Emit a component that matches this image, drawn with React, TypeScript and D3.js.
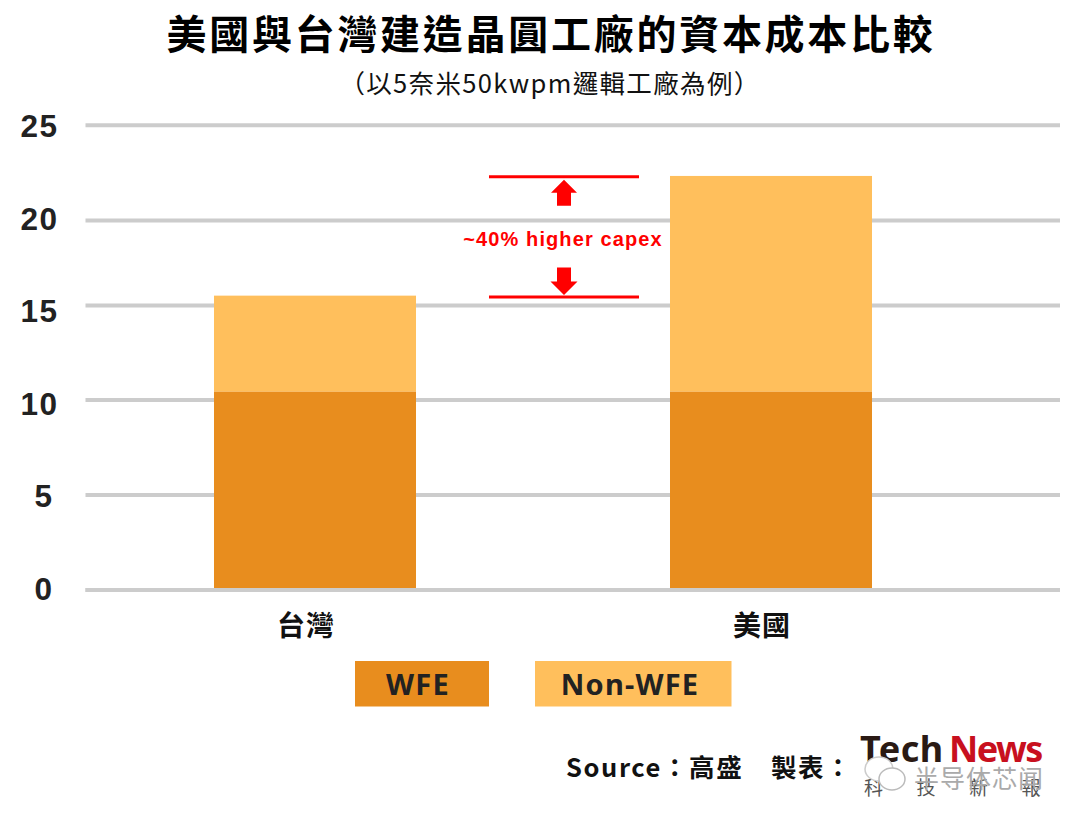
import * as d3 from 'd3';

// --- Data ---
const categories = ['台灣', '美國'];
const wfe = [10.44, 10.44];
const nonWfe = [5.14, 11.9];
const yTicks = [0, 5, 10, 15, 20, 25];

const title = '美國與台灣建造晶圓工廠的資本成本比較';
const subtitle = '（以5奈米50kwpm邏輯工廠為例）';

const WFE_COLOR = '#E88D1E';
const NON_WFE_COLOR = '#FFBF5C';
const GRID = '#CCCCCC';
const RED = '#FF0000';
const FONT = '"Noto Sans CJK TC", "Noto Sans", sans-serif';
const LATIN = '"Noto Sans", "Noto Sans CJK TC", sans-serif';
const HELV = '"Liberation Sans", sans-serif';

// the gridlines in the source are not quite evenly spaced, the labels are
const y = d3.scaleLinear().domain(yTicks).range([590, 495, 400, 305.5, 220.5, 125.3]);
const yLabel = d3.scaleLinear().domain([0, 25]).range([600, 137]);
const x = d3.scaleBand<string>().domain(categories).range([87, 999]).paddingInner(0.557).paddingOuter(0.2785);

const App = () => {
    const topLo = y(wfe[0] + nonWfe[0]) + 1.3;
    const topHi = y(wfe[1] + nonWfe[1]) + 0.8;
    const arrowX = 564;

    return (
        <svg width={1080} height={825} style={{ position: 'absolute', top: 0, left: 0, background: '#fff' }}>
            <text x={551} y={49} textAnchor="middle" fontFamily={FONT} fontWeight={700} fontSize={40} letterSpacing={2.72} fill="#000">{title}</text>
            <text x={550} y={93} textAnchor="middle" fontFamily={FONT} fontSize={25.5} letterSpacing={1.35} fill="#111">{subtitle}</text>

            {/* grid + y labels */}
            {yTicks.map(t => (
                <g key={t}>
                    <line x1={85.5} x2={1060} y1={y(t)} y2={y(t)} stroke={GRID} strokeWidth={4} />
                    <text x={t < 10 ? 44 : 39.5} y={yLabel(t)} textAnchor="middle" fontFamily={HELV} fontWeight={700} fontSize={31.5} letterSpacing={1.5} fill="#222">{t}</text>
                </g>
            ))}

            {/* bars */}
            {categories.map((c, i) => (
                <g key={c}>
                    <rect x={x(c)} width={x.bandwidth()} y={y(wfe[i] + nonWfe[i])} height={y(wfe[i]) - y(wfe[i] + nonWfe[i])} fill={NON_WFE_COLOR} />
                    <rect x={x(c)} width={x.bandwidth()} y={y(wfe[i])} height={y(0) - y(wfe[i])} fill={WFE_COLOR} />
                    <text x={(x(c) as number) + x.bandwidth() / 2 - 9} y={636} textAnchor="middle" fontFamily={FONT} fontWeight={700} fontSize={28} letterSpacing={1} fill="#111">{c}</text>
                </g>
            ))}
            <line x1={85.5} x2={1060} y1={y(0)} y2={y(0)} stroke={GRID} strokeWidth={4} />

            {/* capex annotation */}
            <line x1={489} x2={639} y1={topHi} y2={topHi} stroke={RED} strokeWidth={3} />
            <line x1={489} x2={639} y1={topLo} y2={topLo} stroke={RED} strokeWidth={3} />
            <path d={`M${arrowX} ${topHi + 3} l13 13 h-6 v13 h-14 v-13 h-6 z`} fill={RED} />
            <path d={`M${arrowX} ${topLo - 2} l-13.5 -13.5 h6.5 v-14 h14 v14 h6.5 z`} fill={RED} />
            <text x={563} y={246} textAnchor="middle" fontFamily={HELV} fontWeight={700} fontSize={20} letterSpacing={1.1} fill={RED}>~40% higher capex</text>

            {/* legend */}
            <rect x={355} y={661} width={134} height={45.5} fill={WFE_COLOR} />
            <text x={418} y={695} textAnchor="middle" fontFamily={LATIN} fontWeight={700} fontSize={29} letterSpacing={1.2} fill="#222">WFE</text>
            <rect x={535} y={661} width={196.5} height={45.5} fill={NON_WFE_COLOR} />
            <text x={630} y={695} textAnchor="middle" fontFamily={LATIN} fontWeight={700} fontSize={29} letterSpacing={1.2} fill="#222">Non-WFE</text>

            {/* source + logo */}
            <text x={566} y={777} fontFamily={FONT} fontWeight={700} fontSize={25.5} letterSpacing={1.6} fill="#111">Source：高盛</text>
            <text x={771} y={777} fontFamily={FONT} fontWeight={700} fontSize={25.5} letterSpacing={1.6} fill="#111">製表：</text>
            <text x={860} y={762} fontFamily={LATIN} fontWeight={700} fontSize={36} letterSpacing={0.5} fill="#2A1A14">Tech</text>
            <text x={949} y={762} fontFamily={LATIN} fontWeight={700} fontSize={36} letterSpacing={-1.5} fill="#C8101E">News</text>
            <text x={864} y={795} fontFamily={FONT} fontSize={19} letterSpacing={33.5} fill="#555">科技新報</text>
            <ellipse cx={879} cy={769} rx={14} ry={12} fill="#fff" stroke="#ccc" strokeWidth={1.5} />
            <ellipse cx={892} cy={779} rx={13} ry={11} fill="#fff" stroke="#bbb" strokeWidth={1.5} />
            <text x={914} y={788} fontFamily={FONT} fontSize={25} letterSpacing={1} fill="#aaa">半导体芯闻</text>
        </svg>
    );
};

export default App;
